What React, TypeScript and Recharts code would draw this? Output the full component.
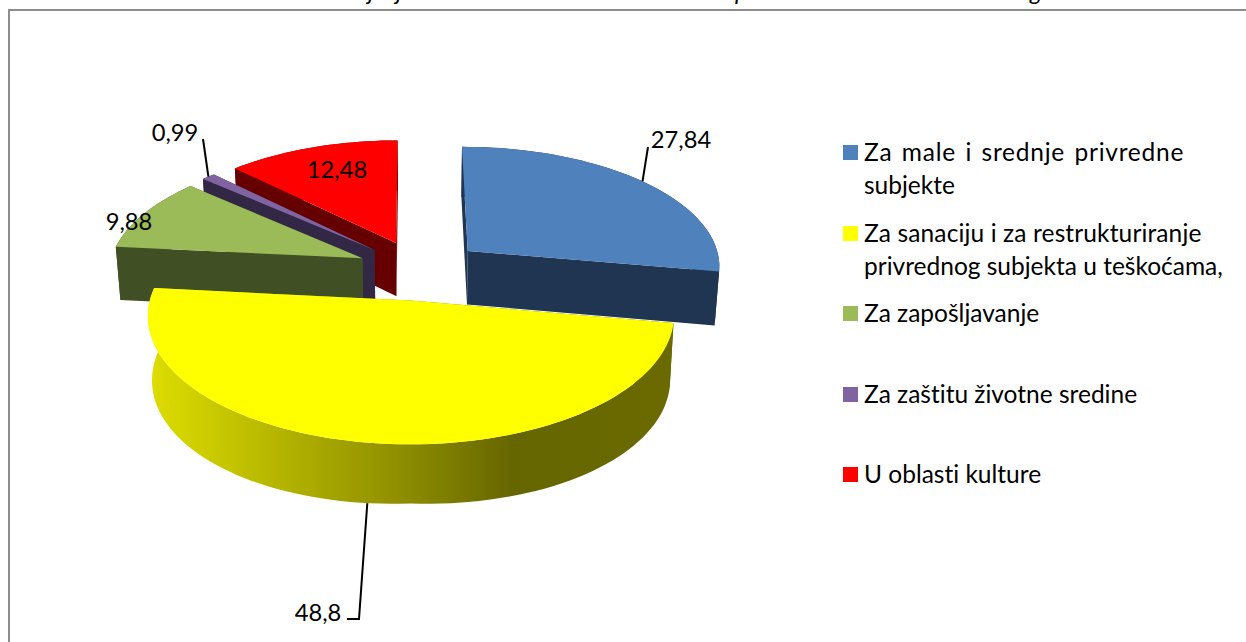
import { Legend, Pie, PieChart } from "recharts";

const CATEGORIES = [
  ["Za male i srednje privredne", "subjekte"],
  ["Za sanaciju i za restrukturiranje", "privrednog subjekta u teškoćama,"],
  ["Za zapošljavanje"],
  ["Za zaštitu životne sredine"],
  ["U oblasti kulture"],
];
const VALUES = [27.84, 48.8, 9.88, 0.99, 12.48];
const COLORS = ["#4F81BD", "#FFFF00", "#9BBB59", "#8064A2", "#FF0000"];
const WALLS = ["#1F3552", "url(#yellowWall)", "#414F24", "#322845", "#660000"];

// the title above the frame is cut off by the page, only its descenders show
const CUT_TITLE = [
  { ch: "j", x: 368 },
  { ch: "j", x: 396 },
  { ch: "p", x: 735 },
  { ch: "g", x: 1030 },
];

// back to front, so yellow ends up over the green and purple walls
const DRAW_ORDER = [0, 4, 3, 2, 1];
const pieData = DRAW_ORDER.map((i) => ({
  name: CATEGORIES[i].join(" "),
  value: VALUES[i],
  fill: COLORS[i],
  wall: WALLS[i],
}));

// fake 3D: tilted plane with a little perspective
const CX = 420;
const CY = 270;
const RX = 254;
const RY = 120;
const PERSPECTIVE = 0.113;
const DEPTH = 54;
const SHOULDER = 9;
const EXPLODE = 0.25;
const FONT = "Lato, 'Open Sans', sans-serif";

const rad = (d: number) => (d * Math.PI) / 180;

function project(clock: number, mid: number, r: number, low: boolean) {
  const X = EXPLODE * Math.sin(rad(mid)) + r * Math.sin(rad(clock));
  const Y = -EXPLODE * Math.cos(rad(mid)) - r * Math.cos(rad(clock));
  const s = 1 / (1 - PERSPECTIVE * Y);
  const x = CX + RX * X * s;
  const y = CY + RY * Y * s;
  if (!low) return [x, y];
  // the front slice's wall hangs a bit lower towards its two sides
  const front = Math.max(0, -Math.cos(rad(mid)));
  const shoulder = SHOULDER * front * r * Math.abs(Math.sin(rad(clock)));
  return [CX + (x - CX) * 0.985, y + DEPTH * (1 + 0.6 * (s - 1)) + shoulder];
}

function arc(from: number, to: number, mid: number, low: boolean) {
  const steps = Math.max(2, Math.ceil(Math.abs(to - from) / 2));
  const pts = [];
  for (let i = 0; i <= steps; i++) {
    pts.push(project(from + ((to - from) * i) / steps, mid, 1, low));
  }
  return pts;
}

const toPoints = (pts: number[][]) => pts.map((p) => p[0].toFixed(1) + "," + p[1].toFixed(1)).join(" ");
const toPath = (pts: number[][]) => "M" + pts.map((p) => p[0].toFixed(1) + " " + p[1].toFixed(1)).join("L") + "Z";

function Slice3D(props: any) {
  const a1 = 90 - props.startAngle;
  const a2 = 90 - props.endAngle;
  const mid = (a1 + a2) / 2;
  const wall = props.payload?.wall ?? props.wall;
  const apex = project(0, mid, 0, false);
  const apexLow = project(0, mid, 0, true);
  const top = arc(a1, a2, mid, false);
  const low = arc(a1, a2, mid, true);
  // one path of small quads, so the round wall keeps its tangent at the far left
  const band = top
    .slice(1)
    .map((p, i) => toPath([top[i], p, low[i + 1], low[i]]))
    .join("");
  return (
    <g>
      <path d={band} fill={wall} />
      <polygon points={toPoints([apex, top[0], low[0], apexLow])} fill={wall} />
      <polygon points={toPoints([apex, top[top.length - 1], low[low.length - 1], apexLow])} fill={wall} />
      <polygon points={toPoints([apex, ...top])} fill={props.fill} />
    </g>
  );
}

// text centre and optional leader, per category
const LABEL_POS = [
  { x: 681, y: 139, leader: [[648, 147]] },
  { x: 318, y: 612, leader: [[359, 619], [347, 619]], lowAnchor: true, dx: -3 },
  { x: 129, y: 221 },
  { x: 175, y: 132, leader: [[203, 139]] },
  { x: 337, y: 169 },
];

function renderLabel(props: any) {
  const cat = DRAW_ORDER[props.index];
  const pos: any = LABEL_POS[cat];
  const mid = 90 - props.midAngle;
  const p = project(mid, mid, 1, !!pos.lowAnchor);
  const anchor = [p[0] + (pos.dx ?? 0), p[1]];
  return (
    <g>
      {pos.leader && (
        <polyline points={toPoints([anchor, ...pos.leader])} fill="none" stroke="#000" strokeWidth={2} />
      )}
      <text x={pos.x} y={pos.y} textAnchor="middle" dominantBaseline="central" fontFamily={FONT} fontSize={23.7} fill="#000">
        {String(VALUES[cat]).replace(".", ",")}
      </text>
    </g>
  );
}

const LEGEND_TOPS = [145, 226, 306, 387, 467];
// Lato runs narrower than the original font on some lines
const LINE_SPACING: Record<string, { letterSpacing: number; wordSpacing: number }> = {
  "Za male i srednje privredne": { letterSpacing: 0.75, wordSpacing: 2.5 },
  "Za sanaciju i za restrukturiranje": { letterSpacing: 0.13, wordSpacing: 0 },
};

function LegendBox() {
  return (
    <div style={{ position: "relative", fontFamily: FONT, fontSize: 24.5, lineHeight: "33px", color: "#000", fontVariantLigatures: "none" }}>
      {CATEGORIES.map((lines, i) => (
        <div key={i} style={{ position: "absolute", left: 0, top: LEGEND_TOPS[i] }}>
          <span style={{ position: "absolute", left: 0, top: 0, width: 15, height: 15, background: COLORS[i] }} />
          <div style={{ position: "absolute", left: 21, top: -10, whiteSpace: "nowrap" }}>
            {lines.map((l) => (
              <div key={l} style={LINE_SPACING[l]}>{l}</div>
            ))}
          </div>
        </div>
      ))}
    </div>
  );
}

export default function App() {
  return (
    <div style={{ position: "absolute", left: 0, top: 0, width: 1246, height: 642, overflow: "hidden", background: "#fff" }}>
      <div style={{ position: "absolute", left: 8, top: 9, width: 1238, height: 633, borderLeft: "2px solid #8C8C8C", borderTop: "2px solid #8C8C8C" }} />
      {CUT_TITLE.map((t, i) => (
        <span key={i} style={{ position: "absolute", left: t.x, top: -24, fontFamily: FONT, fontStyle: "italic", fontSize: 24, lineHeight: "30px" }}>
          {t.ch}
        </span>
      ))}
      <PieChart width={1246} height={642} margin={{ top: 0, right: 0, bottom: 0, left: 0 }}>
        <defs>
          <linearGradient id="yellowWall" gradientUnits="userSpaceOnUse" x1={148} y1={0} x2={672} y2={0}>
            <stop offset="0" stopColor="#DEDE00" />
            <stop offset="0.135" stopColor="#C8C800" />
            <stop offset="0.305" stopColor="#ABAB00" />
            <stop offset="0.477" stopColor="#8F8F00" />
            <stop offset="0.647" stopColor="#6F6F00" />
            <stop offset="0.695" stopColor="#666600" />
            <stop offset="1" stopColor="#6A6A00" />
          </linearGradient>
        </defs>
        <Pie
          data={pieData}
          dataKey="value"
          nameKey="name"
          cx={CX}
          cy={CY}
          outerRadius={RX}
          startAngle={-10}
          endAngle={350}
          stroke="none"
          shape={Slice3D}
          label={renderLabel}
          labelLine={false}
          isAnimationActive={false}
        />
        <Legend content={LegendBox} wrapperStyle={{ position: "absolute", left: 843, top: 0, width: 400, height: 0 }} />
      </PieChart>
    </div>
  );
}
